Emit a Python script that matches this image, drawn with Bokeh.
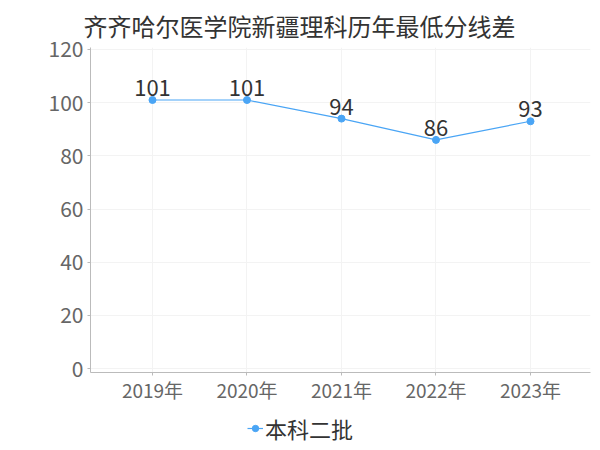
from bokeh.plotting import figure
from bokeh.layouts import column
from bokeh.models import Range1d, FixedTicker, ColumnDataSource, Legend, LegendItem, LabelSet
from bokeh.core.properties import value
from bokeh.embed import file_html
from bokeh.resources import INLINE

title = "齐齐哈尔医学院新疆理科历年最低分线差"
years = ["2019年", "2020年", "2021年", "2022年", "2023年"]
values = [101, 101, 94, 86, 93]
series_name = "本科二批"
y_ticks = [0, 20, 40, 60, 80, 100, 120]

FONT = "Noto Sans CJK SC"
LINE = "#4aa5f5"

xs = list(range(len(years)))
src = ColumnDataSource(dict(x=xs, y=values, lab=[str(v) for v in values]))

p = figure(width=592, height=406, output_backend="svg", toolbar_location=None,
           x_range=Range1d(-0.656, 4.635), y_range=Range1d(-1.5, 120.75),
           min_border_left=90, min_border_right=2, min_border_top=44, min_border_bottom=34)

p.title.text = title
p.title.align = "left"
p.title.offset = -7
p.title.text_font = FONT
p.title.text_font_size = "24px"
p.title.text_font_style = "normal"
p.title.text_color = "#333333"

p.outline_line_color = None
p.background_fill_color = "white"

p.xaxis.ticker = FixedTicker(ticks=xs)
p.xaxis.major_label_overrides = {i: y for i, y in enumerate(years)}
p.xaxis.major_label_text_font = FONT
p.xaxis.major_label_text_font_size = "19px"
p.xaxis.major_label_text_color = "#666666"
p.xaxis.axis_line_color = "#bbbbbb"
p.xaxis.major_tick_line_color = "#bbbbbb"
p.xaxis.major_tick_in = 0
p.xaxis.major_tick_out = 3
p.xaxis.minor_tick_line_color = None
p.xaxis.major_label_standoff = 0

p.yaxis.ticker = FixedTicker(ticks=y_ticks)
p.yaxis.major_label_text_font = FONT
p.yaxis.major_label_text_font_size = "21px"
p.yaxis.major_label_text_color = "#666666"
p.yaxis.axis_line_color = "#bbbbbb"
p.yaxis.major_tick_line_color = "#bbbbbb"
p.yaxis.major_tick_in = 0
p.yaxis.major_tick_out = 3
p.yaxis.minor_tick_line_color = None
p.yaxis.major_label_standoff = 4

p.xgrid.ticker = FixedTicker(ticks=xs)
p.xgrid.grid_line_color = "#f3f3f3"
p.ygrid.grid_line_color = "#f3f3f3"

p.line("x", "y", source=src, line_color=LINE, line_width=1.2)
p.scatter("x", "y", source=src, size=7, fill_color=LINE, line_color=LINE)

labels = LabelSet(x="x", y="y", text="lab", source=src, text_font=value(FONT),
                  text_font_size="22px", text_color="#333333", text_align="center",
                  text_baseline="alphabetic", y_offset=4)
p.add_layout(labels)

# legend strip below the chart
lg = figure(width=592, height=44, output_backend="svg", toolbar_location=None,
            x_range=Range1d(-0.656, 4.635), y_range=Range1d(1000, 1001),
            min_border_left=0, min_border_right=0, min_border_top=0, min_border_bottom=0)
lg.axis.visible = False
lg.grid.visible = False
lg.outline_line_color = None
lr = lg.line(xs, values, line_color=LINE, line_width=1.2)
ls = lg.scatter(xs, values, size=7, fill_color=LINE, line_color=LINE)
legend = Legend(items=[LegendItem(label=series_name, renderers=[lr, ls])],
                orientation="horizontal", location=(157, 6),
                label_text_font=FONT, label_text_font_size="22px", label_text_color="#333333",
                glyph_width=16, label_standoff=2, border_line_color=None,
                background_fill_alpha=0, padding=0, margin=0)
lg.add_layout(legend)

layout = column(p, lg, spacing=0)
open("out.html", "w").write(file_html(layout, INLINE))
